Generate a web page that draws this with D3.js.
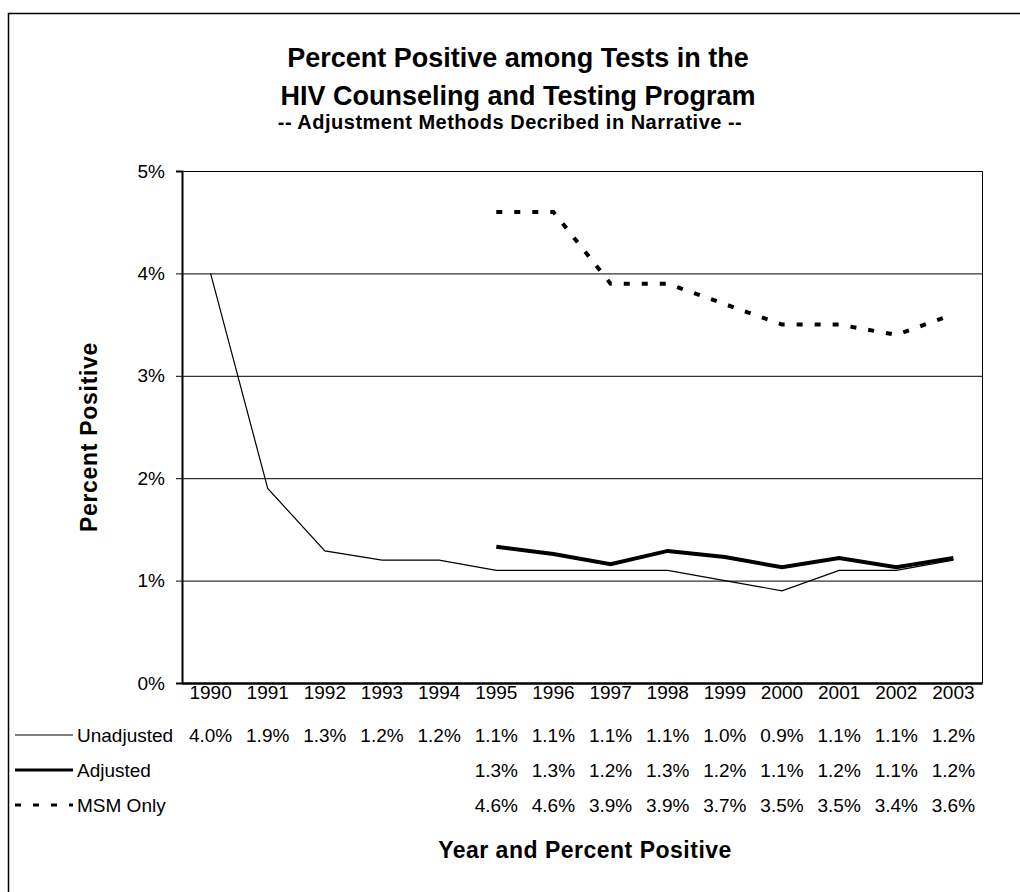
<!DOCTYPE html>
<html><head><meta charset="utf-8">
<script src="https://cdn.jsdelivr.net/npm/d3@7"></script>
<style>
html,body{margin:0;padding:0;background:#fff;}
svg{display:block;font-family:"Liberation Sans",Arial,sans-serif;}
</style></head>
<body>
<svg id="chart" width="1020" height="892"></svg>
<script>
const years = ["1990","1991","1992","1993","1994","1995","1996","1997","1998","1999","2000","2001","2002","2003"];
const unadjusted = [4.0,1.9,1.29,1.2,1.2,1.1,1.1,1.1,1.1,1.0,0.9,1.1,1.1,1.2];
const adjusted = [null,null,null,null,null,1.33,1.26,1.16,1.29,1.23,1.13,1.22,1.13,1.22];
const msmOnly = [null,null,null,null,null,4.6,4.6,3.9,3.9,3.7,3.5,3.5,3.4,3.6];
const yTicks = [0,1,2,3,4,5];
const seriesNames = ["Unadjusted","Adjusted","MSM Only"];

const FONT = "Liberation Sans, Arial, sans-serif";
const svg = d3.select("#chart");
const L = 182, R = 982, T = 171, B = 683;

svg.append("rect").attr("x",8.5).attr("y",13.5).attr("width",1100).attr("height",1000)
  .attr("fill","none").attr("stroke","#000").attr("stroke-width",1.5);

const x = d3.scaleBand().domain(years).range([L,R]);
const y = d3.scaleLinear().domain([0,5]).range([B,T]);
const cx = d => x(d) + x.bandwidth()/2;

// gridlines
svg.append("g").selectAll("line").data(yTicks.filter(v=>v>0)).join("line")
  .attr("x1",L).attr("x2",R).attr("y1",d=>y(d)+0.5).attr("y2",d=>y(d)+0.5)
  .attr("stroke","#000").attr("stroke-width",1);

// right border
svg.append("line").attr("x1",R+0.5).attr("x2",R+0.5).attr("y1",T).attr("y2",B).attr("stroke","#000").attr("stroke-width",1);

// y axis
const yAxis = d3.axisLeft(y).tickValues(yTicks).tickFormat(d=>d+"%").tickSize(6).tickPadding(11);
const gy = svg.append("g").attr("transform",`translate(${L},0)`).call(yAxis);
gy.select(".domain").attr("stroke-width",2);
gy.selectAll(".tick line").attr("stroke-width",1);
gy.selectAll("text").attr("font-size",19).attr("fill","#000").attr("font-family",FONT);

// x axis
const xAxis = d3.axisBottom(x).tickSize(0).tickPadding(0);
const gx = svg.append("g").attr("transform",`translate(0,${B})`).call(xAxis);
gx.select(".domain").attr("stroke-width",2.5);
gx.selectAll("text").attr("font-size",19).attr("fill","#000").attr("font-family",FONT)
  .attr("dy",null).attr("y",16);

// lines
const lineGen = d3.line().defined(d=>d.v!=null).x(d=>cx(d.year)).y(d=>y(d.v));
const mk = arr => years.map((yr,i)=>({year:yr,v:arr[i]}));
const styles = [
  {data:unadjusted, w:1.2, dash:null},
  {data:adjusted, w:4, dash:null},
  {data:msmOnly, w:4, dash:"6,12"}
];
styles.forEach(s=>{
  svg.append("path").datum(mk(s.data)).attr("d",lineGen)
    .attr("fill","none").attr("stroke","#000").attr("stroke-width",s.w)
    .attr("stroke-dasharray",s.dash).attr("stroke-linejoin","miter");
});

// data table
const rowsY = [742,777,812];
const allSeries = [unadjusted, adjusted, msmOnly];
allSeries.forEach((arr,ri)=>{
  const g = svg.append("g");
  g.selectAll("text").data(mk(arr).filter(d=>d.v!=null)).join("text")
    .attr("x",d=>cx(d.year)).attr("y",rowsY[ri]).attr("text-anchor","middle")
    .attr("font-size",19).attr("fill","#000").text(d=>d.v.toFixed(1)+"%");
  // legend key
  svg.append("line").attr("x1",15).attr("x2",73).attr("y1",rowsY[ri]-7).attr("y2",rowsY[ri]-7)
    .attr("stroke","#000").attr("stroke-width",ri===0?1.2:3).attr("stroke-dasharray",styles[ri].dash);
  svg.append("text").attr("x",77).attr("y",rowsY[ri]).attr("font-size",19).attr("fill","#000").text(seriesNames[ri]);
});

// titles
svg.append("text").attr("x",518).attr("y",67).attr("text-anchor","middle").attr("font-size",27).attr("font-weight","bold").text("Percent Positive among Tests in the");
svg.append("text").attr("x",518).attr("y",105).attr("text-anchor","middle").attr("font-size",27).attr("font-weight","bold").text("HIV Counseling and Testing Program");
svg.append("text").attr("x",510).attr("y",129).attr("text-anchor","middle").attr("font-size",20).attr("font-weight","bold").attr("letter-spacing",0.5).text("-- Adjustment Methods Decribed in Narrative --");

svg.append("text").attr("x",585).attr("y",858).attr("text-anchor","middle").attr("font-size",23).attr("font-weight","bold").attr("letter-spacing",0.5).text("Year and Percent Positive");
svg.append("text").attr("transform","translate(97,437) rotate(-90)").attr("text-anchor","middle").attr("font-size",23).attr("font-weight","bold").attr("letter-spacing",0.7).text("Percent Positive");
</script>
</body></html>
